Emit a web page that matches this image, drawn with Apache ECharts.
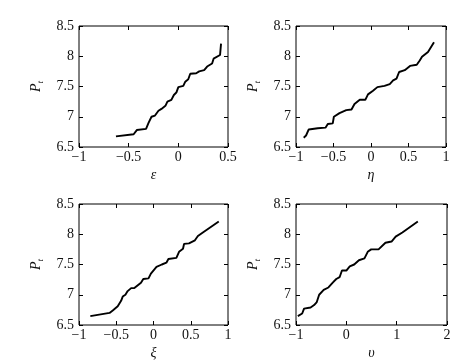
<!DOCTYPE html>
<html>
<head>
<meta charset="utf-8">
<script src="https://cdn.jsdelivr.net/npm/echarts@6/dist/echarts.min.js"></script>
<style>
html,body{margin:0;padding:0;background:#fff;}
#c{width:466px;height:362px;}
</style>
</head>
<body>
<div id="c"></div>
<script>
// ---- data ----
var epsX = [-0.628,-0.45,-0.418,-0.325,-0.30,-0.27,-0.235,-0.20,-0.17,-0.13,-0.11,-0.07,-0.045,-0.02,0.0,0.05,0.07,0.10,0.12,0.18,0.21,0.26,0.29,0.34,0.355,0.42,0.43];
var epsY = [6.675,6.71,6.78,6.80,6.90,7.00,7.02,7.10,7.13,7.18,7.25,7.28,7.36,7.40,7.49,7.51,7.58,7.62,7.71,7.72,7.75,7.77,7.83,7.88,7.96,8.02,8.21];

var etaX = [-0.897,-0.866,-0.83,-0.71,-0.607,-0.576,-0.51,-0.495,-0.42,-0.33,-0.26,-0.22,-0.15,-0.076,-0.04,0.027,0.085,0.18,0.25,0.295,0.34,0.375,0.45,0.52,0.61,0.65,0.68,0.76,0.84];
var etaY = [6.654,6.69,6.79,6.81,6.82,6.88,6.89,7.00,7.06,7.11,7.12,7.21,7.28,7.28,7.37,7.43,7.49,7.51,7.54,7.60,7.63,7.74,7.77,7.84,7.86,7.93,7.99,8.07,8.23];

var xiX = [-0.848,-0.59,-0.547,-0.48,-0.435,-0.413,-0.377,-0.347,-0.30,-0.257,-0.168,-0.137,-0.067,-0.035,0.04,0.112,0.173,0.20,0.307,0.343,0.396,0.41,0.476,0.556,0.596,0.653,0.876];
var xiY = [6.647,6.70,6.74,6.81,6.90,6.97,7.00,7.06,7.11,7.11,7.20,7.26,7.27,7.35,7.46,7.50,7.53,7.59,7.61,7.71,7.76,7.84,7.85,7.90,7.97,8.02,8.21];

var upsX = [-0.964,-0.877,-0.84,-0.71,-0.64,-0.587,-0.54,-0.45,-0.356,-0.27,-0.20,-0.134,-0.087,0.0,0.068,0.156,0.25,0.36,0.425,0.494,0.64,0.777,0.898,0.98,1.113,1.42];
var upsY = [6.647,6.69,6.77,6.79,6.83,6.88,7.00,7.08,7.12,7.20,7.26,7.29,7.40,7.40,7.47,7.50,7.57,7.60,7.71,7.75,7.75,7.86,7.88,7.96,8.03,8.21];

var yTicks = [6.5, 7, 7.5, 8, 8.5];
var xRanges = [[-1, 0.5, 0.5], [-1, 1, 0.5], [-1, 1, 0.5], [-1, 2, 1]];
var xNames = ['ε', 'η', 'ξ', 'υ'];
var series = [[epsX, epsY], [etaX, etaY], [xiX, xiY], [upsX, upsY]];

// ---- layout / style ----
var FONT = 'Liberation Serif';
var grids = [
  {left: 79, top: 26, width: 149, height: 121},
  {left: 296, top: 26, width: 150, height: 121},
  {left: 79, top: 204, width: 149, height: 121},
  {left: 296, top: 204, width: 151, height: 121}
];
function fmt(v) { return String(v).replace('-', '\u2212'); }
var tick = {show: true, inside: true, length: 4, lineStyle: {color: '#000', width: 1}};
var noLine = {show: false, onZero: false};

var option = {
  backgroundColor: '#fff',
  animation: false,
  grid: grids.map(function (g) {
    return Object.assign({show: true, borderColor: '#000', borderWidth: 1, backgroundColor: 'transparent', containLabel: false}, g);
  }),
  xAxis: [],
  yAxis: [],
  series: []
};

for (var i = 0; i < 4; i++) {
  var r = xRanges[i];
  option.xAxis.push({
    type: 'value', gridIndex: i, min: r[0], max: r[1], interval: r[2], position: 'bottom',
    axisLine: noLine, splitLine: {show: false}, axisTick: tick,
    axisLabel: {color: '#111', fontFamily: FONT, fontSize: 14, margin: 3, formatter: fmt},
    name: xNames[i], nameLocation: 'middle', nameGap: 21,
    nameTextStyle: {color: '#111', fontFamily: FONT, fontSize: 14, fontStyle: 'italic'}
  });
  option.xAxis.push({
    type: 'value', gridIndex: i, min: r[0], max: r[1], interval: r[2], position: 'top',
    axisLine: noLine, splitLine: {show: false}, axisTick: tick,
    axisLabel: {show: false}
  });
  option.yAxis.push({
    type: 'value', gridIndex: i, min: yTicks[0], max: yTicks[yTicks.length - 1], interval: 0.5, position: 'left',
    axisLine: noLine, splitLine: {show: false}, axisTick: tick,
    axisLabel: {color: '#111', fontFamily: FONT, fontSize: 14, margin: 5, formatter: fmt},
    name: '{p|P}{t|t}', nameLocation: 'middle', nameGap: 34, nameRotate: 90,
    nameTextStyle: {
      color: '#111', fontFamily: FONT,
      rich: {
        p: {fontFamily: FONT, fontSize: 14, fontStyle: 'italic', color: '#111'},
        t: {fontFamily: FONT, fontSize: 9, fontStyle: 'italic', color: '#111', padding: [8, 0, 0, 0]}
      }
    }
  });
  option.yAxis.push({
    type: 'value', gridIndex: i, min: yTicks[0], max: yTicks[yTicks.length - 1], interval: 0.5, position: 'right',
    axisLine: noLine, splitLine: {show: false}, axisTick: tick,
    axisLabel: {show: false}
  });
  var d = series[i][0].map(function (x, k) { return [x, series[i][1][k]]; });
  option.series.push({
    type: 'line', xAxisIndex: 2 * i, yAxisIndex: 2 * i, data: d,
    showSymbol: false, symbol: 'none', smooth: false,
    lineStyle: {color: '#000', width: 1.9}
  });
}

var chart = echarts.init(document.getElementById('c'), null, {renderer: 'canvas'});
chart.setOption(option);
</script>
</body>
</html>
